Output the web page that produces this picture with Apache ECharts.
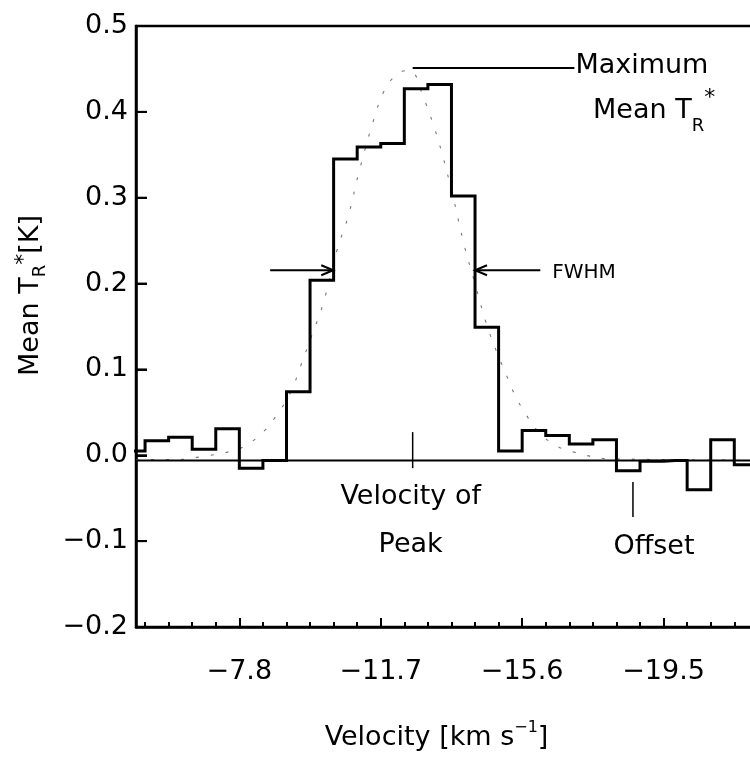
<!DOCTYPE html>
<html>
<head>
<meta charset="utf-8">
<script src="https://cdn.jsdelivr.net/npm/echarts@6/dist/echarts.min.js"></script>
<style>
html,body{margin:0;padding:0;background:#fff;}
#c{width:750px;height:759px;}
</style>
</head>
<body>
<div id="c"></div>
<script>
// ---- data ----
// spectrum channels: centre velocity (km/s) and mean T_R* (K)
const channelVelocity = [-4.875,-5.525,-6.175,-6.825,-7.475,-8.125,-8.775,-9.425,-10.075,-10.725,-11.375,-12.025,-12.675,-13.325,-13.975,-14.625,-15.275,-15.925,-16.575,-17.225,-17.875,-18.525,-19.175,-19.825,-20.475,-21.125,-21.775,-22.425];
const meanTR = [0.005,0.017,0.021,0.007,0.031,-0.015,-0.006,0.074,0.204,0.345,0.359,0.363,0.427,0.432,0.302,0.149,0.005,0.029,0.023,0.013,0.018,-0.018,-0.007,-0.006,-0.040,0.018,-0.011,-0.008];
// fitted profile (dashed curve)
const fitVelocity = [-4.95,-6.0,-7.0,-7.5,-8.0,-8.5,-8.8,-9.2,-9.5,-9.8,-10.1,-10.5,-10.8,-11.1,-11.5,-11.8,-12.1,-12.4,-12.6,-12.85,-13.15,-13.4,-13.7,-14.0,-14.3,-14.6,-14.9,-15.1,-15.4,-15.6,-16.0,-16.5,-17.0,-18.0,-23.4];
const fitTR = [-0.005,-0.005,0.0,0.004,0.012,0.029,0.045,0.072,0.105,0.14,0.175,0.24,0.278,0.33,0.39,0.425,0.442,0.448,0.446,0.42,0.385,0.35,0.30,0.245,0.20,0.155,0.12,0.10,0.07,0.055,0.03,0.012,0.004,-0.004,-0.006];
// baseline level
const baselineLevel = -0.006;
// annotation anchors
const peakVelocity = -12.58;
const maxLineLevel = 0.451;
const maxLineEndVelocity = -17.04;
const peakTickRange = [0.027, -0.015];
const fwhmLevel = 0.2155;
const fwhmLeftArrow = [-8.65, -10.39];   // tail, tip
const fwhmRightArrow = [-16.10, -14.30]; // tail, tip
const offsetVelocity = -18.655;
const offsetTickRange = [-0.031, -0.072];
// axes
const xMin = -23.4, xMax = -4.95, xMinorStep = 0.65, xMajorStep = 3.9;
const yMin = -0.2, yMax = 0.5, yStep = 0.1;
const yTickValues = [-0.1, 0.0, 0.1, 0.2, 0.3, 0.4];

// ---- chart ----
const FONT = 'DejaVu Sans';
const minus = s => s.replace('-', '\u2212');
const isMajor = v => Math.abs(v / xMajorStep - Math.round(v / xMajorStep)) < 1e-6;
const chart = echarts.init(document.getElementById('c'), null, {renderer: 'canvas', width: 750, height: 759});

const option = {
  animation: false,
  backgroundColor: '#fff',
  grid: {left: 136, top: 26, right: -55, bottom: 132, show: true, borderColor: '#000', borderWidth: 2.5, outerBoundsMode: 'none'},
  xAxis: [{
    type: 'value', inverse: true, min: xMin, max: xMax, interval: xMinorStep, position: 'bottom',
    axisLine: {show: true, onZero: false, lineStyle: {color: '#000', width: 2.5}}, splitLine: {show: false},
    axisTick: {show: true, inside: true, length: 5, lineStyle: {color: '#000', width: 2}},
    axisLabel: {fontFamily: FONT, fontSize: 27, color: '#000', margin: 31,
      formatter: v => isMajor(v) ? minus(v.toFixed(1)) : ''},
    name: 'Velocity [km s{sup|\u22121}]',
    nameLocation: 'middle', nameGap: 93,
    nameTextStyle: {fontFamily: FONT, fontSize: 27, color: '#000', lineHeight: 36, padding: [0, 68, 0, 0],
      rich: {sup: {fontFamily: FONT, fontSize: 16, color: '#000', verticalAlign: 'top', lineHeight: 14}}}
  }, {
    type: 'value', inverse: true, min: xMin, max: xMax, interval: xMajorStep, position: 'bottom',
    axisLine: {show: false, onZero: false}, splitLine: {show: false}, axisLabel: {show: false},
    axisTick: {show: true, inside: true, length: 9, lineStyle: {color: '#000', width: 2}}
  }],
  yAxis: [{
    type: 'value', min: yMin, max: yMax, interval: yStep, position: 'left',
    axisLine: {show: true, onZero: false, lineStyle: {color: '#000', width: 2.5}}, splitLine: {show: false},
    axisTick: {show: true, inside: true, length: 11, lineStyle: {color: '#000', width: 2}},
    axisLabel: {fontFamily: FONT, fontSize: 27, color: '#000', margin: 8,
      formatter: v => minus(v.toFixed(1))},
    name: 'Mean T{sub|R}{sup|*}[K]',
    nameLocation: 'middle', nameRotate: 90, nameGap: 87,
    nameTextStyle: {fontFamily: FONT, fontSize: 27, color: '#000', lineHeight: 36, padding: [0, 0, 0, 62],
      rich: {
        sub: {fontFamily: FONT, fontSize: 18, color: '#000', verticalAlign: 'bottom', lineHeight: 10},
        sup: {fontFamily: FONT, fontSize: 22, color: '#000', verticalAlign: 'top', lineHeight: 24}
      }}
  }],
  series: [{
    type: 'line', name: 'Fit', xAxisIndex: 0, yAxisIndex: 0,
    data: fitVelocity.map((v, i) => [v, fitTR[i]]),
    smooth: 0.4, showSymbol: false, silent: true,
    lineStyle: {color: '#777', width: 1.1, type: [3, 12]}, z: 2
  }, {
    type: 'line', name: 'Baseline', xAxisIndex: 0, yAxisIndex: 0,
    data: [[xMax, baselineLevel], [xMin, baselineLevel]],
    showSymbol: false, silent: true,
    lineStyle: {color: '#000', width: 2}, z: 3
  }, {
    type: 'line', name: 'Mean TR*', xAxisIndex: 0, yAxisIndex: 0,
    data: channelVelocity.map((v, i) => [v, meanTR[i]]),
    step: 'middle', showSymbol: false, silent: true,
    lineStyle: {color: '#000', width: 3, join: 'miter', cap: 'square'}, z: 4
  }, {
    type: 'custom', name: 'y ticks', xAxisIndex: 0, yAxisIndex: 0, silent: true, clip: false, z: 5,
    data: yTickValues.map(t => [xMax, t]),
    renderItem: (params, api) => {
      const p = api.coord([api.value(0), api.value(1)]);
      return {type: 'line', shape: {x1: p[0], y1: p[1], x2: p[0] + 11, y2: p[1]}, style: {stroke: '#000', lineWidth: 2}};
    }
  }]
};
chart.setOption(option);

// ---- annotations ----
const P = (v, t) => chart.convertToPixel({xAxisIndex: 0, yAxisIndex: 0}, [v, t]);
const lineStyle = () => ({stroke: '#000', lineWidth: 2});
const txt = (x, y, text, size, align, extra) => ({
  type: 'text', x: x, y: y, z: 10,
  style: Object.assign({text: text, fontFamily: FONT, fontSize: size, fill: '#000', align: align, verticalAlign: 'middle'}, extra || {})
});
const g = [];
// Maximum line
const m0 = P(peakVelocity, maxLineLevel), m1 = P(maxLineEndVelocity, maxLineLevel);
g.push({type: 'line', z: 10, shape: {x1: m0[0], y1: m0[1], x2: m1[0], y2: m1[1]}, style: lineStyle()});
g.push(txt(m1[0] + 1, m1[1] - 2, 'Maximum', 27, 'left'));
g.push(txt(593, 111, 'Mean T{sub|R}{sup|*}', 27, 'left', {
  lineHeight: 48,
  rich: {
    sub: {fontFamily: FONT, fontSize: 18, fill: '#000', verticalAlign: 'bottom', lineHeight: 14},
    sup: {fontFamily: FONT, fontSize: 22, fill: '#000', verticalAlign: 'top', lineHeight: 34}
  }
}));
// FWHM arrows
function arrow(tailV, tipV, level) {
  const a = P(tailV, level), b = P(tipV, level);
  const dir = b[0] > a[0] ? 1 : -1;
  g.push({type: 'line', z: 10, shape: {x1: a[0], y1: a[1], x2: b[0], y2: b[1]}, style: lineStyle()});
  g.push({type: 'polyline', z: 10, shape: {points: [[b[0] - dir * 12, b[1] - 5], [b[0], b[1]], [b[0] - dir * 12, b[1] + 5]]}, style: Object.assign({fill: 'none'}, lineStyle())});
  return a;
}
arrow(fwhmLeftArrow[0], fwhmLeftArrow[1], fwhmLevel);
const rt = arrow(fwhmRightArrow[0], fwhmRightArrow[1], fwhmLevel);
g.push(txt(rt[0] + 12, rt[1] + 3, 'FWHM', 20, 'left'));
// velocity of peak tick
const pk0 = P(peakVelocity, peakTickRange[0]), pk1 = P(peakVelocity, peakTickRange[1]);
g.push({type: 'line', z: 10, shape: {x1: pk0[0], y1: pk0[1], x2: pk1[0], y2: pk1[1]}, style: {stroke: '#000', lineWidth: 1.5}});
g.push(txt(pk0[0] - 2, 497, 'Velocity of', 27, 'center'));
g.push(txt(pk0[0] - 2, 545, 'Peak', 27, 'center'));
// offset tick
const of0 = P(offsetVelocity, offsetTickRange[0]), of1 = P(offsetVelocity, offsetTickRange[1]);
g.push({type: 'line', z: 10, shape: {x1: of0[0], y1: of0[1], x2: of1[0], y2: of1[1]}, style: {stroke: '#000', lineWidth: 1.5}});
g.push(txt(of0[0] + 21, 547, 'Offset', 27, 'center'));

chart.setOption({graphic: g});
</script>
</body>
</html>
